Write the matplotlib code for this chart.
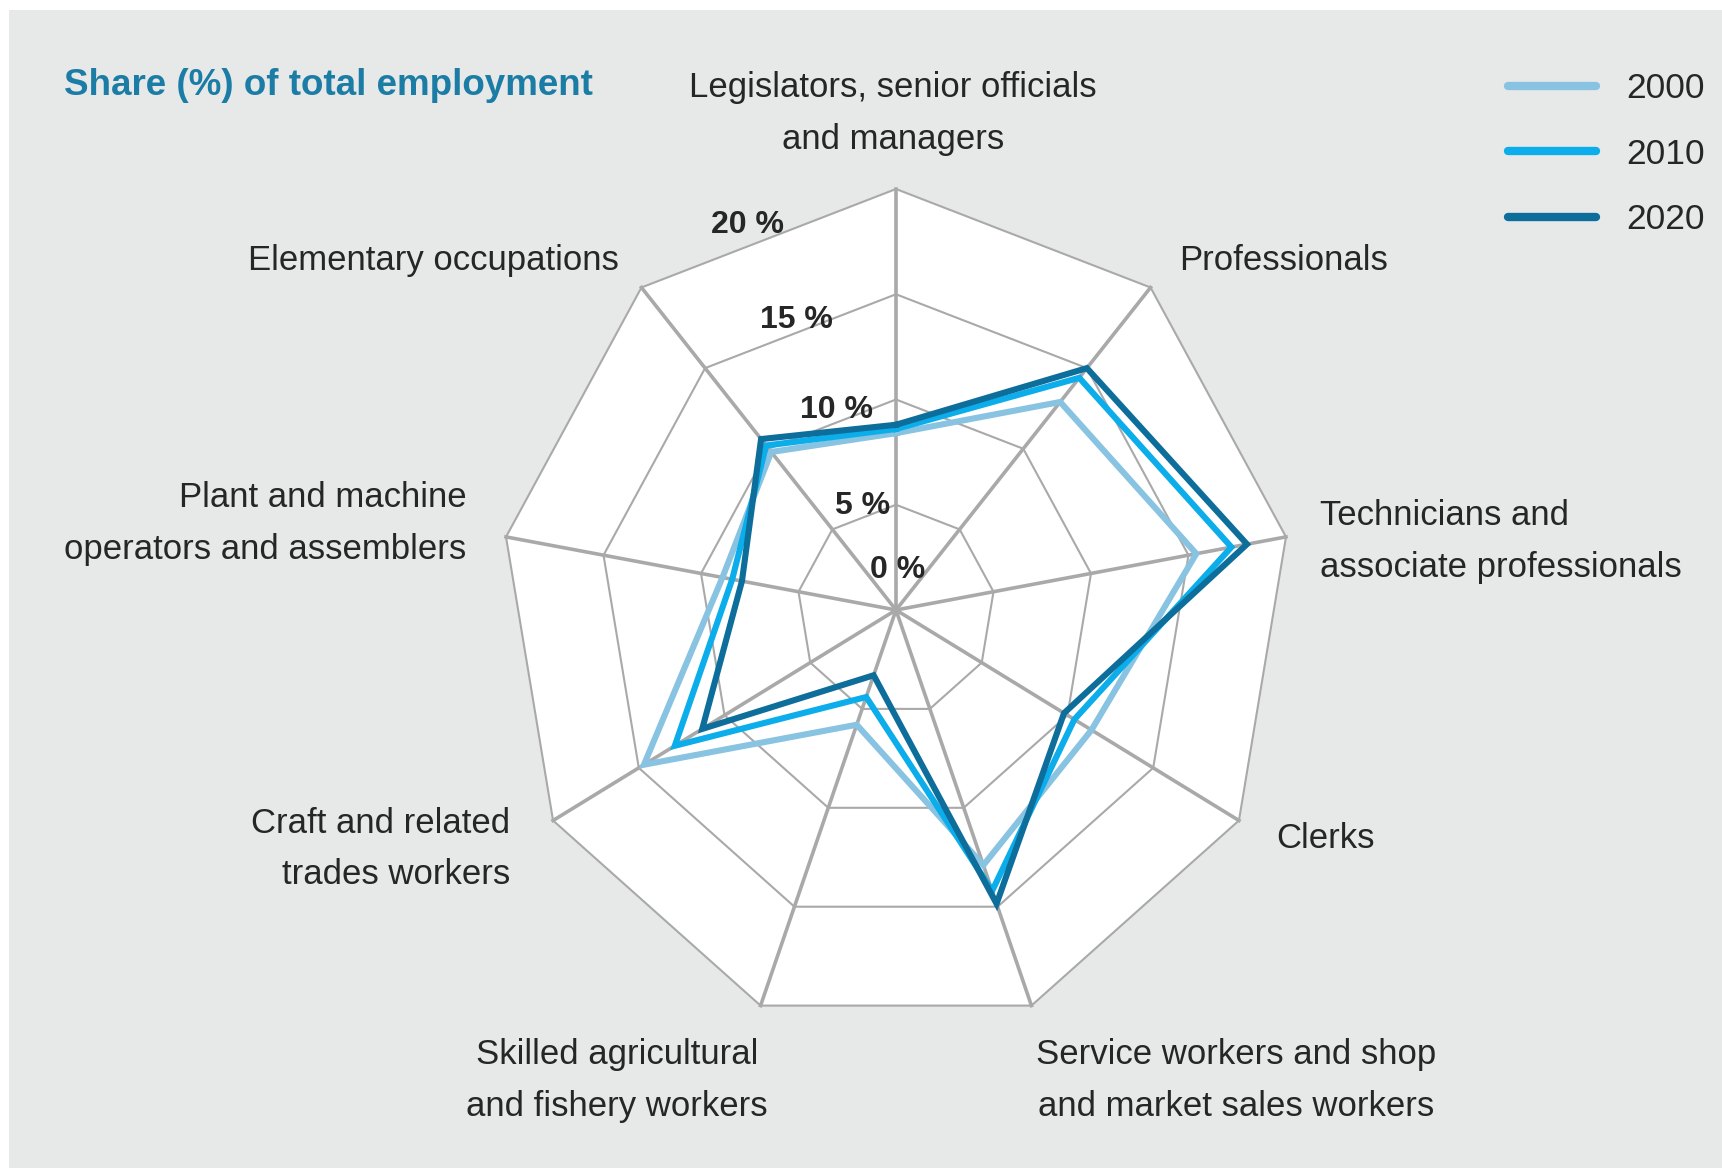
import numpy as np
import matplotlib
matplotlib.use("Agg")
import matplotlib.pyplot as plt
from matplotlib.patches import Rectangle, Polygon

FONT = ["Liberation Sans Narrow", "Liberation Sans", "DejaVu Sans"]
plt.rcParams["font.family"] = FONT

categories = [
    "Legislators, senior officials\nand managers",
    "Professionals",
    "Technicians and\nassociate professionals",
    "Clerks",
    "Service workers and shop\nand market sales workers",
    "Skilled agricultural\nand fishery workers",
    "Craft and related\ntrades workers",
    "Plant and machine\noperators and assemblers",
    "Elementary occupations",
]
years = ["2000", "2010", "2020"]
share_2000 = [8.4, 12.9, 15.4, 11.4, 12.9, 5.8, 14.7, 8.9, 9.8]
share_2010 = [8.6, 14.4, 17.2, 10.4, 14.2, 4.4, 12.9, 8.4, 10.2]
share_2020 = [8.8, 15.0, 18.0, 9.8, 14.85, 3.3, 11.3, 7.9, 10.6]
ring_values = [5, 10, 15, 20]
tick_values = [0, 5, 10, 15, 20]

COLORS = ["#88c3e2", "#0badea", "#0d6e9b"]
GRID = "#a9a9a9"
INK = "#262626"
TITLE_C = "#1b7ca5"
BG = "#e7e9e9"

W, H = 1722, 1168
CX, CY = 896, 610          # centre in pixels (from top)
PX_X, PX_Y = 19.8, 21.05   # pixels per percent (chart is slightly squashed horizontally)

fig = plt.figure(figsize=(W / 100, H / 100), dpi=100, facecolor="white")
fig.patches.append(Rectangle((9 / W, 0), 1, 1 - 10 / H, transform=fig.transFigure,
                             facecolor=BG, edgecolor="none", zorder=-10))
ax = fig.add_axes([0, 0, 1, 1])
ax.set_xlim(-CX / PX_X, (W - CX) / PX_X)
ax.set_ylim(-(H - CY) / PX_Y, CY / PX_Y)
ax.axis("off")
ax.patch.set_alpha(0)

n = len(categories)
theta = np.arange(n) * 2 * np.pi / n   # clockwise from top


def xy(vals):
    v = np.asarray(vals, dtype=float)
    return v * np.sin(theta), v * np.cos(theta)


# outer white nonagon
ox, oy = xy([ring_values[-1]] * n)
ax.add_patch(Polygon(np.c_[ox, oy], closed=True, facecolor="white",
                     edgecolor="none", zorder=0))
for r in ring_values:
    gx, gy = xy([r] * n)
    ax.plot(np.r_[gx, gx[:1]], np.r_[gy, gy[:1]], color=GRID, lw=1.5, zorder=1)
for t in theta:
    ax.plot([0, ring_values[-1] * np.sin(t)], [0, ring_values[-1] * np.cos(t)],
            color=GRID, lw=2.6, zorder=1)

for vals, c, yr in zip([share_2000, share_2010, share_2020], COLORS, years):
    px, py = xy(vals)
    ax.plot(np.r_[px, px[:1]], np.r_[py, py[:1]], color=c, lw=4.4,
            solid_joinstyle="miter", label=yr, zorder=3)

# ring value labels, (x, y) in data units
tick_pos = [(0.1, 1.9), (-1.7, 4.95), (-3.0, 9.5), (-5.05, 13.8), (-7.5, 18.3)]
for v, (x, y) in zip(tick_values, tick_pos):
    ax.text(x, y, f"{v} %", ha="center", va="center",
            fontsize=23, fontweight="bold", color=INK, zorder=4)

# category labels: (x, y, ha) in data units
label_pos = [
    (-0.15, 23.6, "center"),
    (14.3, 16.6, "left"),
    (21.4, 3.25, "left"),
    (19.2, -10.85, "left"),
    (17.2, -22.35, "center"),
    (-14.1, -22.35, "center"),
    (-19.5, -11.35, "right"),
    (-21.7, 4.1, "right"),
    (-14.0, 16.6, "right"),
]
for lab, (x, y, ha) in zip(categories, label_pos):
    ax.text(x, y, lab, ha=ha, va="center", multialignment=ha,
            fontsize=25, color=INK, linespacing=1.72)

ax.text(-42.0, 24.9, "Share (%) of total employment", ha="left", va="center",
        fontsize=26.5, fontweight="bold", color=TITLE_C)

leg = ax.legend(loc="upper right", bbox_to_anchor=(1705 / W, 1 - 72 / H),
                bbox_transform=fig.transFigure, frameon=False, fontsize=25.5,
                handlelength=2.5, handletextpad=0.85, labelspacing=0.92,
                borderpad=0, borderaxespad=0)
for h in leg.get_lines():
    h.set_linewidth(6)
    h.set_solid_capstyle("round")
for t in leg.get_texts():
    t.set_color(INK)

fig.savefig("out.png", dpi=100, facecolor=fig.get_facecolor())
